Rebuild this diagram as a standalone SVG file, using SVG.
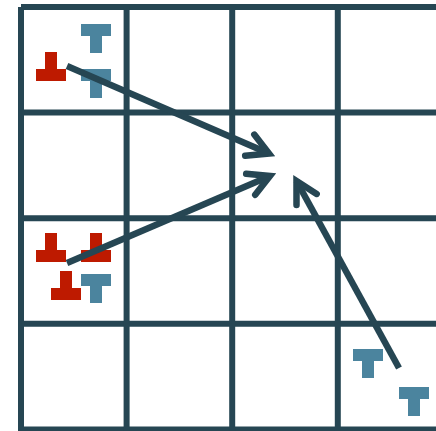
<svg xmlns="http://www.w3.org/2000/svg" width="436" height="431" viewBox="0 0 436 431">
<style>
.grid{stroke:#264653;stroke-width:6;fill:none;stroke-linecap:butt}
.blue{fill:#4b849e}
.red{fill:#be1a00}
.arrow{stroke:#264653;stroke-width:6.5;fill:none;stroke-linecap:butt}
.head{stroke:#264653;stroke-width:6.5;fill:none;stroke-linecap:round;stroke-linejoin:miter}
</style>
<defs>
<path id="tBlue" d="M0,0 h30 v12 h-9 v17 h-12 v-17 h-9 z"/>
<path id="tRed" d="M9,0 h12 v17 h9 v12 h-30 v-12 h9 z"/>
<marker id="chev" markerUnits="userSpaceOnUse" orient="auto" markerWidth="60" markerHeight="60" refX="0" refY="0" viewBox="-30 -30 60 60" overflow="visible">
<path class="head" d="M-21,-11.5 L0,0 L-21,11.5"/>
</marker>
</defs>
<g id="grid" class="grid">
<path d="M21,7 H443 M21,112.6 H443 M21,218.2 H443 M21,323.8 H443 M21,429.4 H443"/>
<path d="M21,7 V435 M126.6,7 V435 M232.2,7 V435 M337.8,7 V435"/>
</g>
<g id="piece-b1" class="blue"><use href="#tBlue" x="81" y="24"/></g>
<g id="piece-b2" class="blue"><use href="#tBlue" x="81" y="69"/></g>
<g id="piece-r1" class="red"><use href="#tRed" x="36" y="52"/></g>
<g id="piece-r2" class="red"><use href="#tRed" x="36" y="233"/></g>
<g id="piece-r3" class="red"><use href="#tRed" x="81" y="233"/></g>
<g id="piece-r4" class="red"><use href="#tRed" x="51" y="271"/></g>
<g id="piece-b3" class="blue"><use href="#tBlue" x="81" y="274"/></g>
<g id="piece-b4" class="blue"><use href="#tBlue" x="353" y="349"/></g>
<g id="piece-b5" class="blue"><use href="#tBlue" x="399" y="387"/></g>
<g id="connectors" class="arrow">
<path d="M67,66 L269,153.5" marker-end="url(#chev)"/>
<path d="M67,263 L270,176" marker-end="url(#chev)"/>
<path d="M399,368 L296.5,181" marker-end="url(#chev)"/>
</g>
</svg>
